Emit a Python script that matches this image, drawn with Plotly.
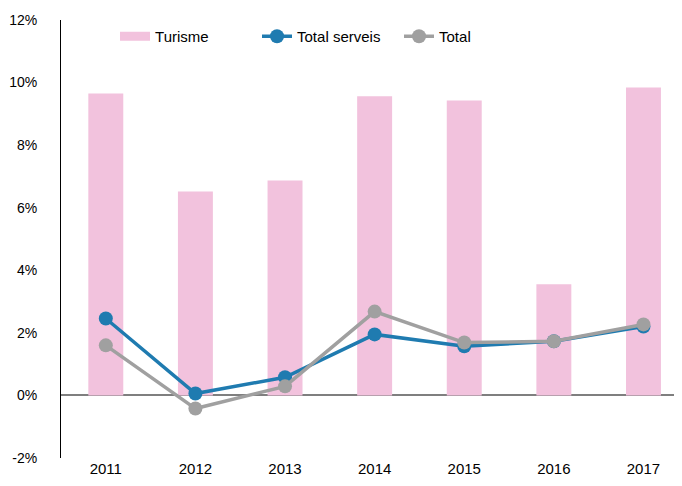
import plotly.graph_objects as go

years = ["2011", "2012", "2013", "2014", "2015", "2016", "2017"]
turisme = [9.65, 6.52, 6.87, 9.56, 9.43, 3.55, 9.84]
total_serveis = [2.46, 0.06, 0.58, 1.95, 1.57, 1.73, 2.20]
total = [1.60, -0.42, 0.29, 2.68, 1.69, 1.73, 2.27]
y_ticks = [-2, 0, 2, 4, 6, 8, 10, 12]
y_tick_labels = [f"{v}%" for v in y_ticks]

font = "Liberation Sans, Arial, sans-serif"
pink = "#F2C2DD"
blue = "#1F7BB0"
gray = "#A0A0A0"

fig = go.Figure()
fig.add_trace(go.Bar(x=years, y=turisme, name="Turisme",
                     marker=dict(color=pink, line=dict(width=0)),
                     width=0.39, showlegend=False))
# legend-only entry to get a wide rectangular swatch like the reference
fig.add_trace(go.Scatter(x=[None], y=[None], name="Turisme", mode="lines",
                         line=dict(color=pink, width=9), showlegend=True,
                         hoverinfo="skip"))
fig.add_trace(go.Scatter(x=years, y=total_serveis, name="Total serveis",
                         mode="lines+markers",
                         line=dict(color=blue, width=3.5),
                         marker=dict(color=blue, size=14)))
fig.add_trace(go.Scatter(x=years, y=total, name="Total",
                         mode="lines+markers",
                         line=dict(color=gray, width=3.5),
                         marker=dict(color=gray, size=14)))

fig.update_layout(
    width=674, height=478,
    margin=dict(l=53, r=0, t=12, b=28, autoexpand=False),
    paper_bgcolor="white", plot_bgcolor="white",
    font=dict(family=font, size=15, color="#000000"),
    showlegend=True,
    legend=dict(orientation="h", x=0.087, y=1.0, xanchor="left", yanchor="top",
                bgcolor="rgba(0,0,0,0)", font=dict(size=15), entrywidth=97,
                entrywidthmode="pixels", traceorder="normal"),
)
fig.update_xaxes(type="category", range=[-0.5, 6.43], showgrid=False,
                 showline=False, ticks="", zeroline=False, automargin=False,
                 tickfont=dict(size=15))
fig.update_yaxes(range=[-2, 12], tickvals=y_ticks, ticktext=y_tick_labels,
                 showgrid=False, showline=True, linecolor="#000000", linewidth=1,
                 zeroline=True, zerolinecolor="#7F7F7F", zerolinewidth=1.5,
                 ticks="", ticklabelstandoff=20, automargin=False,
                 tickfont=dict(size=14))

fig.write_html("out.html")
